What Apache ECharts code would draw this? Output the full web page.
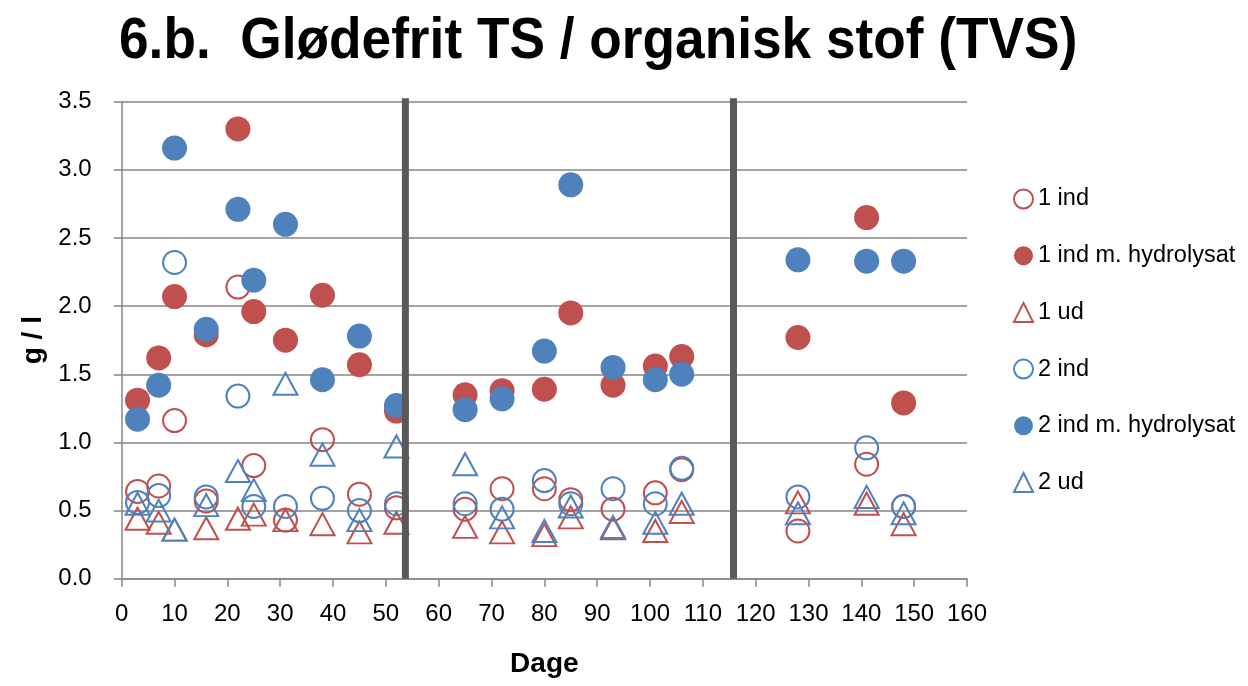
<!DOCTYPE html>
<html>
<head>
<meta charset="utf-8">
<title>6.b. Glødefrit TS / organisk stof (TVS)</title>
<script src="https://cdn.jsdelivr.net/npm/echarts@6/dist/echarts.min.js"></script>
<style>
  html, body { margin: 0; padding: 0; background: #ffffff; }
  #chart { width: 1248px; height: 686px; }
</style>
</head>
<body>
<div id="chart"></div>
<script>
// Sampling days (Dage), three periods separated by dividers
const dagePeriod1 = [3, 7, 10, 16, 22, 25, 31, 38, 45, 52];
const dagePeriod2 = [65, 72, 80, 85, 93, 101, 106];
const dagePeriod3 = [128, 141, 148];
const dage = dagePeriod1.concat(dagePeriod2, dagePeriod3);

// g / l values per series, aligned with `dage`
const ind1 = [0.64, 0.68, 1.16, 0.57, 2.14, 0.83, 0.43, 1.02, 0.62, 0.52,
              0.51, 0.66, 0.66, 0.58, 0.51, 0.63, 0.80,
              0.35, 0.84, 0.53];
const ind1Hydrolysat = [1.31, 1.62, 2.07, 1.79, 3.30, 1.96, 1.75, 2.08, 1.57, 1.23,
                        1.35, 1.38, 1.39, 1.95, 1.42, 1.56, 1.63,
                        1.77, 2.65, 1.29];
const ud1 = [0.44, 0.41, 0.36, 0.37, 0.44, 0.47, 0.43, 0.40, 0.34, 0.41,
             0.38, 0.34, 0.32, 0.45, 0.37, 0.35, 0.49,
             0.56, 0.55, 0.40];
const ind2 = [0.56, 0.61, 2.32, 0.60, 1.34, 0.53, 0.53, 0.59, 0.50, 0.55,
              0.55, 0.51, 0.72, 0.55, 0.66, 0.55, 0.81,
              0.60, 0.96, 0.53];
const ind2Hydrolysat = [1.17, 1.42, 3.16, 1.83, 2.71, 2.19, 2.60, 1.46, 1.78, 1.27,
                        1.24, 1.32, 1.67, 2.89, 1.55, 1.46, 1.50,
                        2.34, 2.33, 2.33];
const ud2 = [0.55, 0.50, 0.36, 0.54, 0.79, 0.65, 1.43, 0.91, 0.43, 0.97,
             0.84, 0.45, 0.35, 0.53, 0.38, 0.41, 0.55,
             0.48, 0.60, 0.48];

// Period dividers on the day axis
const dividers = [53.7, 115.8];

const yTicks = [0, 0.5, 1, 1.5, 2, 2.5, 3, 3.5];

const RED = '#C0504D';
const BLUE = '#4F81BD';
const GRID = '#868686';
const FONT = "'Liberation Sans', Arial, sans-serif";

function pairs(values) {
  return dage.map((d, i) => [d, values[i]]);
}

// hollow marker: transparent fill, coloured outline
function openSeries(name, values, color, symbol, size) {
  return {
    name, type: 'scatter', data: pairs(values),
    symbol, symbolSize: size,
    itemStyle: { color: 'rgba(255,255,255,0)', borderColor: color, borderWidth: 2, opacity: 1 },
    emphasis: { disabled: true },
    z: 3
  };
}

function filledSeries(name, values, color) {
  return {
    name, type: 'scatter', data: pairs(values),
    symbol: 'circle', symbolSize: 25,
    itemStyle: { color: color, opacity: 1 },
    emphasis: { disabled: true },
    z: 3
  };
}

const series = [
  openSeries('1 ind', ind1, RED, 'circle', 23),
  filledSeries('1 ind m. hydrolysat', ind1Hydrolysat, RED),
  openSeries('1 ud', ud1, RED, 'triangle', [24, 22]),
  openSeries('2 ind', ind2, BLUE, 'circle', 23),
  filledSeries('2 ind m. hydrolysat', ind2Hydrolysat, BLUE),
  openSeries('2 ud', ud2, BLUE, 'triangle', [24, 22])
];

dividers.forEach(x => {
  series.push({
    type: 'line', data: [[x, 0], [x, 3.54]],
    symbol: 'none', silent: true,
    lineStyle: { color: '#595959', width: 7 },
    z: 5
  });
});

const chart = echarts.init(document.getElementById('chart'), null, { renderer: 'canvas' });

chart.setOption({
  animation: false,
  backgroundColor: '#ffffff',
  graphic: [{
    type: 'text',
    x: 119, y: 14,
    scaleX: 0.934,
    style: {
      text: '6.b.  Glødefrit TS / organisk stof (TVS)',
      font: "bold 57px 'Liberation Sans', Arial, sans-serif",
      fill: '#000000'
    }
  }],
  grid: { left: 121.7, right: 281, top: 101.7, bottom: 107.3, containLabel: false },
  legend: {
    orient: 'vertical',
    left: 1013, top: 187,
    padding: 0,
    itemWidth: 19, itemHeight: 19,
    itemGap: 32.7,
    data: series.filter(s => s.name).map(s => s.name),
    textStyle: { fontFamily: FONT, fontSize: 23.5, color: '#000000', lineHeight: 24 }
  },
  xAxis: {
    type: 'value', min: 0, max: 160, interval: 10,
    name: 'Dage', nameLocation: 'middle', nameGap: 72,
    nameTextStyle: { fontFamily: FONT, fontSize: 28, fontWeight: 'bold', color: '#000000' },
    axisLine: { show: true, onZero: false, lineStyle: { color: GRID, width: 1.5 } },
    axisTick: { show: true, inside: false, length: 8, lineStyle: { color: GRID, width: 1.5 } },
    axisLabel: { fontFamily: FONT, fontSize: 24, color: '#000000', margin: 24 },
    splitLine: { show: false }
  },
  yAxis: {
    type: 'value', min: yTicks[0], max: yTicks[yTicks.length - 1], interval: 0.5,
    name: 'g / l', nameLocation: 'middle', nameGap: 73, nameRotate: 90,
    nameTextStyle: { fontFamily: FONT, fontSize: 28, fontWeight: 'bold', color: '#000000' },
    axisLine: { show: true, lineStyle: { color: GRID, width: 1.5 } },
    axisTick: { show: true, inside: false, length: 8, lineStyle: { color: GRID, width: 1.5 } },
    axisLabel: { fontFamily: FONT, fontSize: 24, color: '#000000', margin: 30,
                 formatter: v => v.toFixed(1) },
    splitLine: { show: true, lineStyle: { color: GRID, width: 1.5 } }
  },
  series
});
</script>
</body>
</html>
